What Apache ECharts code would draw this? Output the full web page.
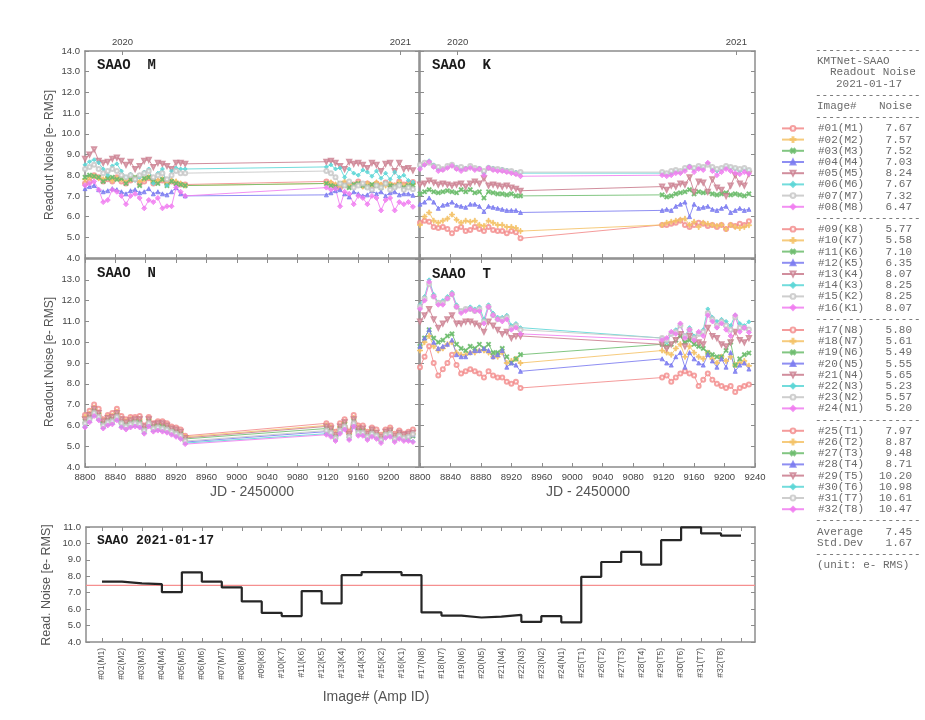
<!DOCTYPE html>
<html><head><meta charset="utf-8">
<script src="https://cdn.jsdelivr.net/npm/echarts@6/dist/echarts.min.js"></script>
<style>html,body{margin:0;padding:0;background:#fff}#c{width:925px;height:720px}</style>
</head><body><div id="c"></div>
<script>
// ---------------- data ----------------
const JD = [8800,8806,8812,8818,8824,8830,8836,8842,8848,8854,8860,8866,8872,8878,8884,8890,8896,8902,8908,8914,8920,8926,8932,
            9118,9124,9130,9136,9142,9148,9154,9160,9166,9172,9178,9184,9190,9196,9202,9208,9214,9220,9226,9232];
const YEAR_JD = [8849.5, 9215.5];
const YEAR_LABELS = ['2020', '2021'];
const AMP_NAMES = ['#01(M1)','#02(M2)','#03(M3)','#04(M4)','#05(M5)','#06(M6)','#07(M7)','#08(M8)',
                   '#09(K8)','#10(K7)','#11(K6)','#12(K5)','#13(K4)','#14(K3)','#15(K2)','#16(K1)',
                   '#17(N8)','#18(N7)','#19(N6)','#20(N5)','#21(N4)','#22(N3)','#23(N2)','#24(N1)',
                   '#25(T1)','#26(T2)','#27(T3)','#28(T4)','#29(T5)','#30(T6)','#31(T7)','#32(T8)'];
const NOISE = [7.67,7.57,7.52,7.03,8.24,7.67,7.32,6.47,
               5.77,5.58,7.10,6.35,8.07,8.25,8.25,8.07,
               5.80,5.61,5.49,5.55,5.65,5.23,5.57,5.20,
               7.97,8.87,9.48,8.71,10.20,10.98,10.61,10.47];
const AVERAGE = 7.45;
const STDDEV = 1.67;
const PANEL_TITLES = ['SAAO  M','SAAO  K','SAAO  N','SAAO  T'];

const M1 = [7.6,7.7,8.0,7.9,7.7,7.8,7.7,7.9,7.7,7.6,7.75,7.8,7.6,7.7,7.85,7.6,7.7,7.75,7.6,7.7,7.6,7.55,7.55,
            7.7,7.6,7.5,7.4,7.6,7.5,7.55,7.7,7.5,7.6,7.45,7.6,7.5,7.65,7.55,7.5,7.7,7.55,7.6,7.67];
const M2 = [7.8,7.9,7.95,7.85,7.8,7.9,7.75,7.85,7.8,7.7,7.8,7.85,7.7,7.8,7.9,7.7,7.75,7.8,7.6,7.75,7.7,7.6,7.5,
            7.6,7.65,7.55,7.5,7.7,7.55,7.5,7.6,7.45,7.6,7.5,7.65,7.55,7.5,7.6,7.5,7.65,7.5,7.55,7.57];
const M3 = [7.9,8.0,7.95,7.9,7.7,7.85,7.9,7.8,7.85,7.6,7.8,7.9,7.5,7.85,7.9,7.7,7.6,7.8,7.5,7.7,7.6,7.55,7.5,
            7.6,7.5,7.45,7.6,7.5,7.4,7.55,7.6,7.5,7.45,7.55,7.5,7.4,7.6,7.5,7.45,7.55,7.4,7.5,7.52];
const M4 = [7.35,7.45,7.5,7.3,7.2,7.25,7.35,7.3,7.2,7.1,7.25,7.3,7.15,7.2,7.35,7.1,7.2,7.1,7.05,7.2,7.4,7.1,7.0,
            7.05,7.15,7.25,7.3,7.1,6.95,7.2,7.1,7.0,7.05,7.25,7.1,7.2,7.0,7.15,7.2,7.05,7.1,7.1,7.03];
const M5 = [8.8,9.0,9.25,8.7,8.6,8.65,8.8,8.85,8.7,8.5,8.65,8.3,8.45,8.7,8.75,8.4,8.6,8.55,8.45,8.3,8.6,8.6,8.55,
            8.65,8.7,8.6,8.45,8.3,8.65,8.55,8.6,8.5,8.35,8.6,8.5,8.2,8.55,8.6,8.2,8.6,8.3,8.35,8.24];
const M6 = [8.5,8.65,8.75,8.6,8.3,8.0,8.45,8.55,8.2,7.9,8.05,7.75,7.9,8.15,8.3,7.6,8.1,8.3,7.5,8.2,8.35,8.3,8.3,
            8.4,8.5,8.3,8.35,7.9,8.3,8.1,8.0,8.25,8.15,7.95,8.2,7.85,8.1,7.8,8.15,7.9,8.0,7.75,7.67];
const M7 = [8.3,8.4,8.5,8.3,8.1,8.2,8.3,8.2,8.0,7.9,8.0,7.8,8.0,8.1,8.2,7.9,8.0,8.1,7.8,8.0,8.2,8.1,8.1,
            8.2,8.1,7.9,7.6,7.5,7.7,7.4,7.5,7.6,7.4,7.3,7.5,7.4,7.6,7.3,7.4,7.5,7.3,7.4,7.32];
const M8 = [7.5,7.6,7.7,7.3,6.7,6.8,7.3,7.2,7.0,6.6,7.0,7.1,6.9,6.4,6.8,6.7,6.9,6.4,6.5,6.5,7.4,7.2,7.0,
            7.4,7.3,7.35,6.5,7.2,7.1,6.6,7.0,6.9,6.6,7.0,6.9,6.3,6.8,6.9,6.3,6.7,6.6,6.7,6.47];

const K1 = [8.3,8.5,8.65,8.4,8.2,8.25,8.35,8.45,8.3,8.2,8.3,8.35,8.25,8.3,8.0,8.35,8.25,8.2,8.2,8.15,8.1,8.05,7.95,
            8.0,7.95,8.0,8.1,8.1,8.2,8.4,8.15,8.3,8.25,8.6,8.2,8.0,8.15,8.3,8.2,8.1,8.05,8.15,8.07];
const K2 = [8.5,8.6,8.6,8.45,8.4,8.3,8.45,8.5,8.35,8.4,8.3,8.45,8.35,8.3,8.2,8.35,8.3,8.3,8.25,8.2,8.2,8.1,8.15,
            8.15,8.1,8.2,8.25,8.2,8.35,8.4,8.35,8.45,8.4,8.5,8.4,8.3,8.35,8.45,8.4,8.35,8.3,8.35,8.25];
const K3 = [8.4,8.5,8.7,8.5,8.3,8.3,8.4,8.5,8.4,8.3,8.35,8.4,8.3,8.35,8.1,8.4,8.35,8.3,8.3,8.25,8.2,8.15,8.1,
            8.1,8.05,8.1,8.2,8.15,8.3,8.45,8.3,8.4,8.35,8.55,8.3,8.2,8.3,8.4,8.35,8.3,8.2,8.3,8.25];
const K4 = [7.55,7.6,7.75,7.65,7.55,7.6,7.55,7.5,7.55,7.6,7.45,7.6,7.7,7.6,7.85,7.5,7.55,7.5,7.45,7.5,7.4,7.35,7.25,
            7.45,7.3,7.5,7.45,7.6,7.55,7.9,7.2,7.7,7.65,7.2,7.8,7.4,7.3,7.0,7.5,8.0,7.6,7.5,8.07];
const K5 = [6.6,6.7,6.9,6.7,6.4,6.55,6.6,6.7,6.55,6.5,6.45,6.6,6.6,6.5,6.25,6.5,6.45,6.4,6.35,6.3,6.3,6.3,6.2,
            6.3,6.35,6.3,6.5,6.6,6.7,6.0,6.6,6.4,6.45,6.5,6.35,6.3,6.4,6.5,6.2,6.3,6.4,6.3,6.35];
const K6 = [7.1,7.2,7.3,7.2,7.15,7.2,7.25,7.2,7.15,7.3,7.2,7.3,7.15,7.2,6.9,7.2,7.15,7.1,7.1,7.05,7.1,7.0,7.0,
            7.05,6.95,7.0,7.1,7.15,7.2,7.3,7.1,7.2,7.15,7.2,7.1,7.05,7.1,7.15,7.05,7.1,7.05,7.0,7.10];
const K7 = [5.6,6.0,6.2,5.8,5.7,5.8,5.9,6.1,5.85,5.7,5.8,5.75,5.8,5.6,5.55,5.8,5.7,5.6,5.6,5.5,5.5,5.45,5.3,
            5.6,5.7,5.75,5.8,5.85,5.9,5.6,5.75,5.5,5.7,5.65,5.6,5.55,5.6,5.4,5.6,5.5,5.45,5.5,5.58];
const K8 = [5.7,5.8,5.75,5.5,5.45,5.5,5.4,5.2,5.4,5.5,5.3,5.35,5.5,5.4,5.3,5.5,5.35,5.3,5.3,5.2,5.3,5.25,4.95,
            5.6,5.6,5.65,5.7,5.8,5.6,5.5,5.6,5.7,5.65,5.55,5.6,5.5,5.6,5.4,5.6,5.55,5.65,5.6,5.77];

const N1 = [5.9,6.15,6.45,6.25,5.85,6.0,6.05,6.25,5.9,5.8,5.9,5.95,5.9,5.6,5.95,5.7,5.75,5.7,5.65,5.55,5.45,5.35,5.1,
            5.55,5.45,5.25,5.6,5.8,5.3,5.95,5.5,5.5,5.3,5.45,5.35,5.15,5.4,5.45,5.2,5.35,5.25,5.25,5.20];
const N2 = [6.1,6.3,6.6,6.4,6.0,6.15,6.2,6.4,6.1,5.95,6.05,6.1,6.05,5.75,6.1,5.85,5.9,5.85,5.8,5.7,5.6,5.5,5.25,
            5.75,5.65,5.4,5.75,5.95,5.45,6.1,5.65,5.65,5.45,5.6,5.5,5.3,5.55,5.6,5.35,5.5,5.4,5.45,5.57];
const N3 = [5.95,6.2,6.5,6.3,5.9,6.05,6.1,6.3,5.95,5.85,5.95,6.0,5.95,5.65,6.0,5.75,5.8,5.75,5.7,5.6,5.5,5.4,5.15,
            5.6,5.5,5.3,5.65,5.85,5.35,6.0,5.55,5.55,5.35,5.5,5.4,5.2,5.45,5.5,5.25,5.4,5.3,5.3,5.23];
const N4 = [6.3,6.5,6.8,6.6,6.2,6.35,6.4,6.6,6.3,6.15,6.25,6.3,6.3,5.95,6.3,6.05,6.1,6.1,6.0,5.85,5.8,5.7,5.4,
            5.95,5.85,5.55,5.95,6.15,5.6,6.3,5.85,5.85,5.6,5.8,5.65,5.45,5.7,5.75,5.5,5.65,5.55,5.6,5.65];
const N5 = [6.0,6.25,6.55,6.35,5.95,6.1,6.15,6.35,6.0,5.9,6.0,6.05,6.0,5.7,6.05,5.8,5.85,5.8,5.75,5.65,5.55,5.45,5.2,
            5.7,5.6,5.35,5.75,5.95,5.4,6.1,5.65,5.65,5.45,5.6,5.5,5.3,5.55,5.6,5.35,5.5,5.4,5.5,5.55];
const N6 = [6.2,6.4,6.7,6.5,6.1,6.25,6.3,6.5,6.15,6.05,6.15,6.2,6.15,5.85,6.2,5.95,6.0,5.95,5.9,5.75,5.7,5.6,5.35,
            5.85,5.75,5.45,5.85,6.05,5.5,6.2,5.75,5.75,5.5,5.7,5.55,5.35,5.6,5.7,5.4,5.55,5.4,5.45,5.49];
const N7 = [6.4,6.55,6.85,6.6,6.2,6.4,6.45,6.65,6.3,6.2,6.3,6.3,6.3,5.9,6.3,6.0,6.1,6.05,6.0,5.85,5.8,5.7,5.45,
            6.0,5.9,5.6,5.95,6.15,5.6,6.35,5.9,5.85,5.6,5.8,5.65,5.45,5.7,5.8,5.5,5.65,5.5,5.55,5.61];
const N8 = [6.5,6.7,7.0,6.8,6.3,6.5,6.6,6.8,6.45,6.3,6.4,6.4,6.45,6.0,6.4,6.1,6.2,6.2,6.1,5.95,5.9,5.8,5.5,
            6.1,6.0,5.7,6.1,6.3,5.7,6.5,6.0,6.0,5.7,5.9,5.8,5.55,5.8,5.9,5.6,5.75,5.6,5.7,5.80];

const T1 = [8.8,9.3,9.8,9.0,8.4,8.7,9.0,9.4,8.9,8.5,8.6,8.7,8.6,8.5,8.3,8.6,8.4,8.3,8.3,8.1,8.0,8.1,7.8,
            8.3,8.4,8.1,8.3,8.5,8.6,8.5,8.4,7.9,8.2,8.5,8.2,8.0,7.9,7.8,7.9,7.6,7.8,7.9,7.97];
const T2 = [9.6,10.0,10.3,9.8,9.6,9.7,9.9,10.0,9.5,9.4,9.4,9.5,9.5,9.6,9.6,9.5,9.3,9.3,9.5,9.0,9.1,9.2,9.0,
            9.6,9.5,9.4,9.7,9.9,9.3,9.8,9.5,9.3,9.2,9.5,9.2,9.0,9.3,9.1,9.3,8.9,9.0,9.1,8.87];
const T3 = [9.8,10.2,10.6,10.2,10.0,10.1,10.3,10.4,9.9,9.7,9.6,9.8,9.7,9.9,9.7,9.9,9.5,9.5,9.7,9.3,9.0,9.2,9.4,
            9.9,9.8,9.9,10.1,10.3,10.0,10.1,9.9,9.8,9.7,9.5,9.4,9.3,9.3,9.6,10.0,8.9,9.2,9.4,9.48];
const T4 = [9.8,10.2,10.6,10.0,9.7,9.8,9.9,10.1,9.4,9.3,9.3,9.5,9.6,9.6,9.7,9.6,9.3,9.4,9.6,8.8,9.0,8.9,8.6,
            9.2,9.0,8.9,9.3,9.5,8.8,9.5,9.2,9.0,8.9,9.4,9.1,8.8,9.2,8.8,9.5,8.6,8.9,9.0,8.71];
const T5 = [11.0,11.3,11.6,11.1,10.7,10.9,11.1,11.3,10.9,10.9,11.0,11.0,10.9,10.8,10.5,11.0,10.8,10.6,10.4,10.5,10.2,10.3,10.3,
            9.9,9.7,9.9,10.1,10.4,9.8,10.3,10.1,10.0,9.9,10.7,10.3,10.2,9.9,9.8,10.0,10.5,10.1,10.0,10.20];
const T6 = [11.8,12.2,13.0,12.3,11.9,12.0,12.2,12.4,11.8,11.5,11.6,11.7,11.6,11.7,11.1,11.8,11.4,11.2,11.2,11.3,10.8,10.9,10.7,
            10.2,10.0,10.4,10.6,10.8,10.3,10.7,10.3,10.4,10.6,11.6,11.2,11.0,11.1,11.0,10.8,11.3,10.9,10.8,10.98];
const T7 = [11.7,12.1,12.8,12.2,11.9,11.9,12.1,12.3,11.7,11.5,11.6,11.6,11.5,11.6,11.0,11.7,11.3,11.1,11.1,11.2,10.7,10.8,10.6,
            10.2,10.1,10.4,10.5,10.8,10.3,10.6,10.2,10.4,10.5,11.4,11.1,10.8,11.0,10.8,10.6,11.2,10.7,10.7,10.61];
const T8 = [11.6,12.0,12.9,12.2,11.8,11.8,12.1,12.3,11.7,11.4,11.5,11.6,11.5,11.5,10.9,11.7,11.3,11.1,11.0,11.1,10.6,10.7,10.4,
            10.1,10.2,10.5,10.4,10.9,10.2,10.6,10.1,10.5,10.3,11.3,11.0,10.7,10.9,10.6,10.3,11.3,10.5,10.7,10.47];

// series in image-number order
const SERIES_VALUES = [M1,M2,M3,M4,M5,M6,M7,M8, K8,K7,K6,K5,K4,K3,K2,K1, N8,N7,N6,N5,N4,N3,N2,N1, T1,T2,T3,T4,T5,T6,T7,T8];

// ---------------- styles ----------------
const COLORS = ['#f28a8a','#f4c266','#6cbc6c','#7a7af0','#c97a8c','#5ad6d6','#c6c6c6','#f07cf0'];
const PLUS = 'path://M4,0H6V4H10V6H6V10H4V6H0V4H4Z';
const SYMBOLS = ['emptyCircle', PLUS, PLUS, 'triangle', 'emptyTriangle', 'diamond', 'emptyCircle', 'diamond'];
const SYM_ROT = [0,0,45,0,180,0,0,0];
const SYM_SIZE = [4,5,5,4,4,4,4,5];
const AX = '#8c8c8c';
const SANS = 'Liberation Sans';
const MONO = 'Liberation Mono';
const LINE = {show:true, onZero:false, lineStyle:{color:AX, width:1.5}};
const TICK = {show:true, inside:true, length:4, lineStyle:{color:AX, width:1}};
const LBL = {color:'#444', fontSize:9.5, fontFamily:SANS};
const SUM_MIN = 0.2, SUM_MAX = 33.7;

const grids = [
  {left:85, top:51, width:334, height:207},
  {left:420, top:51, width:335, height:207},
  {left:85, top:259, width:334, height:208},
  {left:420, top:259, width:335, height:208},
  {left:86, top:527, width:669, height:115}
];

const xAxis = [], yAxis = [];
for (let g = 0; g < 4; g++) {
  xAxis.push({type:'value', gridIndex:g, position:'bottom', min:8800, max:9240, interval:40,
    axisLine:LINE, axisTick:TICK, splitLine:{show:false},
    axisLabel:Object.assign({}, LBL, {show:g>=2, margin:5, showMaxLabel:g!==2, formatter:v => String(v)})});
}
for (let g = 0; g < 4; g++) {
  if (g < 2) {
    xAxis.push({type:'value', gridIndex:g, position:'top', min:8800, max:9240,
      axisLine:LINE, axisTick:Object.assign({}, TICK, {customValues:YEAR_JD}), splitLine:{show:false},
      axisLabel:Object.assign({}, LBL, {customValues:YEAR_JD, margin:4,
        formatter:v => YEAR_LABELS[YEAR_JD.indexOf(v)]})});
  } else {
    xAxis.push({type:'value', gridIndex:g, position:'top', min:8800, max:9240, interval:40,
      axisLine:LINE, axisTick:TICK, splitLine:{show:false}, axisLabel:{show:false}});
  }
}
for (let g = 0; g < 4; g++) {
  yAxis.push({type:'value', gridIndex:g, position:'left', min:4, max:14, interval:1,
    axisLine:LINE, axisTick:TICK, splitLine:{show:false},
    axisLabel:Object.assign({}, LBL, {show:g%2===0, margin:5, showMaxLabel:g===0, formatter:v=>v.toFixed(1)})});
}
for (let g = 0; g < 4; g++) {
  yAxis.push({type:'value', gridIndex:g, position:'right', min:4, max:14, interval:1,
    axisLine:LINE, axisTick:TICK, splitLine:{show:false}, axisLabel:{show:false}});
}
// bottom summary chart
const IDX = AMP_NAMES.map((_, i) => i + 1);
const IDX_TICKS = IDX.concat([IDX.length + 1]);
xAxis.push({type:'value', gridIndex:4, position:'bottom', min:SUM_MIN, max:SUM_MAX,
  axisLine:LINE, axisTick:Object.assign({}, TICK, {customValues:IDX_TICKS}), splitLine:{show:false},
  axisLabel:Object.assign({}, LBL, {customValues:IDX, rotate:90, fontSize:8.5, margin:6, color:'#555',
    formatter:v => AMP_NAMES[v - 1]})});
xAxis.push({type:'value', gridIndex:4, position:'top', min:SUM_MIN, max:SUM_MAX,
  axisLine:LINE, axisTick:Object.assign({}, TICK, {customValues:IDX_TICKS}), splitLine:{show:false}, axisLabel:{show:false}});
yAxis.push({type:'value', gridIndex:4, position:'left', min:4, max:11, interval:1,
  axisLine:LINE, axisTick:TICK, splitLine:{show:false},
  axisLabel:Object.assign({}, LBL, {margin:5, formatter:v=>v.toFixed(1)})});
yAxis.push({type:'value', gridIndex:4, position:'right', min:4, max:11, interval:1,
  axisLine:LINE, axisTick:TICK, splitLine:{show:false}, axisLabel:{show:false}});

const series = SERIES_VALUES.map((vals, i) => {
  const g = Math.floor(i / 8), p = i % 8, c = COLORS[p];
  return {
    type:'line', name:AMP_NAMES[i], xAxisIndex:g, yAxisIndex:g,
    data: JD.map((x, j) => [x, vals[j]]),
    symbol:SYMBOLS[p], symbolSize:SYM_SIZE[p], symbolRotate:SYM_ROT[p],
    color:c, lineStyle:{width:1, color:c, opacity:0.85}, itemStyle:{color:c, borderColor:c, borderWidth:1, opacity:0.8},
    emphasis:{disabled:true}
  };
});
const stepData = NOISE.map((v, i) => [i + 1, v]);
stepData.push([NOISE.length + 1, NOISE[NOISE.length - 1]]);
// average reference line spanning the summary axis
series.push({
  type:'line', name:'average', xAxisIndex:8, yAxisIndex:8, z:1,
  data:[[SUM_MIN, AVERAGE], [SUM_MAX, AVERAGE]], symbol:'none', silent:true,
  lineStyle:{color:'#f58f8f', width:1.3, type:'solid'}, emphasis:{disabled:true}
});
series.push({
  type:'line', name:'summary', xAxisIndex:8, yAxisIndex:8, step:'end', data:stepData,
  symbol:'none', lineStyle:{color:'#262626', width:2.2}, z:5, emphasis:{disabled:true}
});

// legend table
const ROW0 = 50, ROWH = 11.2;
const rowY = k => ROW0 + ROWH * k;
const legends = [0,1,2,3].map(g => ({
  data: AMP_NAMES.slice(g*8, g*8+8),
  orient:'vertical', left:781, top:rowY(7 + 9*g) - ROWH/2,
  itemWidth:22, itemHeight:6, itemGap:0, selectedMode:false, padding:0,
  formatter: name => '{a|' + name + '}{b|' + NOISE[AMP_NAMES.indexOf(name)].toFixed(2) + '}',
  textStyle:{color:'#6a6a6a', fontFamily:MONO, fontSize:11, lineHeight:ROWH,
    rich:{a:{width:55, padding:[0,0,0,9], fontFamily:MONO, fontSize:11, color:'#6a6a6a', lineHeight:ROWH},
          b:{width:39, align:'right', fontFamily:MONO, fontSize:11, color:'#6a6a6a', lineHeight:ROWH}}}
}));

const DASH = '----------------';
const T = (x, y, text, extra) => ({type:'text', x, y, silent:true,
  style:Object.assign({text, fill:'#6a6a6a', font:'11px "Liberation Mono"', verticalAlign:'middle', align:'left'}, extra || {})});
const graphic = [
  T(815, rowY(0), DASH),
  T(817, rowY(1), 'KMTNet-SAAO'),
  T(830, rowY(2), 'Readout Noise'),
  T(836, rowY(3), '2021-01-17'),
  T(815, rowY(4), DASH),
  T(817, rowY(5), 'Image#'),
  T(912, rowY(5), 'Noise', {align:'right'}),
  T(815, rowY(6), DASH),
  T(815, rowY(15), DASH),
  T(815, rowY(24), DASH),
  T(815, rowY(33), DASH),
  T(815, rowY(42), DASH),
  T(817, rowY(43), 'Average'),
  T(912, rowY(43), AVERAGE.toFixed(2), {align:'right'}),
  T(817, rowY(44), 'Std.Dev'),
  T(912, rowY(44), STDDEV.toFixed(2), {align:'right'}),
  T(815, rowY(45), DASH),
  T(817, rowY(46), '(unit: e- RMS)'),
  // panel titles
  T(97, 65, PANEL_TITLES[0], {fill:'#1a1a1a', font:'bold 14px "Liberation Mono"'}),
  T(432, 65, PANEL_TITLES[1], {fill:'#1a1a1a', font:'bold 14px "Liberation Mono"'}),
  T(97, 273, PANEL_TITLES[2], {fill:'#1a1a1a', font:'bold 14px "Liberation Mono"'}),
  T(432, 274, PANEL_TITLES[3], {fill:'#1a1a1a', font:'bold 14px "Liberation Mono"'}),
  T(97, 541, 'SAAO 2021-01-17', {fill:'#1a1a1a', font:'bold 13px "Liberation Mono"'}),
  // axis names
  {type:'text', x:50, y:155, rotation:Math.PI/2, silent:true,
   style:{text:'Readout Noise [e- RMS]', fill:'#555', font:'12px "Liberation Sans"', align:'center', verticalAlign:'middle'}},
  {type:'text', x:50, y:362, rotation:Math.PI/2, silent:true,
   style:{text:'Readout Noise [e- RMS]', fill:'#555', font:'12px "Liberation Sans"', align:'center', verticalAlign:'middle'}},
  {type:'text', x:252, y:492, silent:true,
   style:{text:'JD - 2450000', fill:'#555', font:'14px "Liberation Sans"', align:'center', verticalAlign:'middle'}},
  {type:'text', x:588, y:492, silent:true,
   style:{text:'JD - 2450000', fill:'#555', font:'14px "Liberation Sans"', align:'center', verticalAlign:'middle'}},
  {type:'text', x:47, y:585, rotation:Math.PI/2, silent:true,
   style:{text:'Read. Noise [e- RMS]', fill:'#555', font:'12.5px "Liberation Sans"', align:'center', verticalAlign:'middle'}},
  {type:'text', x:376, y:697, silent:true,
   style:{text:'Image# (Amp ID)', fill:'#555', font:'14px "Liberation Sans"', align:'center', verticalAlign:'middle'}}
];

const chart = echarts.init(document.getElementById('c'), null, {renderer:'canvas'});
chart.setOption({
  animation:false, backgroundColor:'#fff',
  grid:grids, xAxis, yAxis, series, legend:legends, graphic
});
</script></body></html>
